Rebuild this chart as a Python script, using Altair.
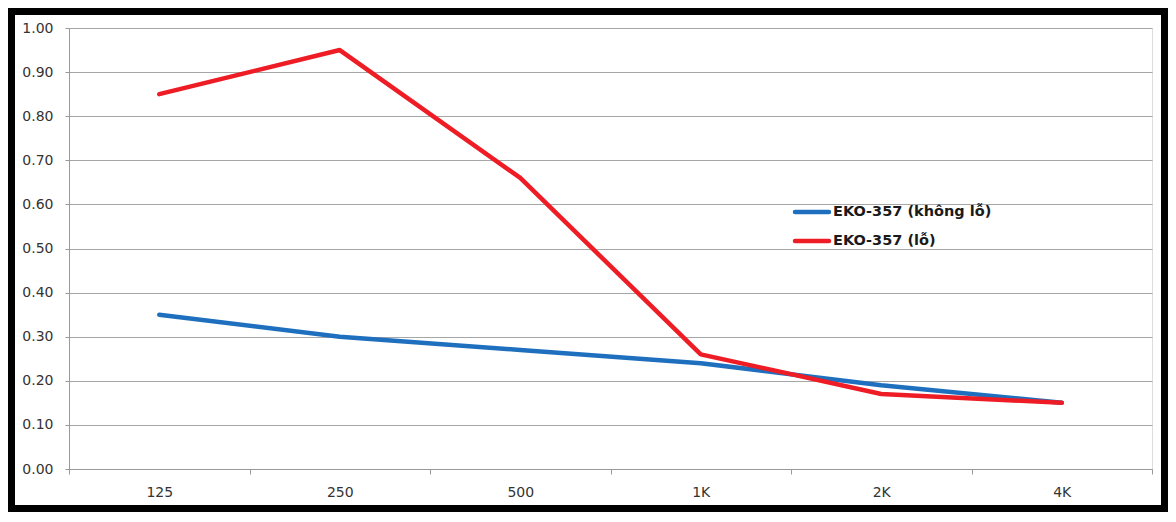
import altair as alt
import pandas as pd

freqs = ["125", "250", "500", "1K", "2K", "4K"]
series_names = ["EKO-357 (không lỗ)", "EKO-357 (lỗ)"]
blue_values = [0.35, 0.30, 0.27, 0.24, 0.19, 0.15]
red_values = [0.85, 0.95, 0.66, 0.26, 0.17, 0.15]
y_ticks = [round(i * 0.1, 1) for i in range(11)]

rows = []
for name, vals in zip(series_names, [blue_values, red_values]):
    for f, v in zip(freqs, vals):
        rows.append({"freq": f, "series": name, "value": v})
df = pd.DataFrame(rows)
legend_df = pd.DataFrame({"series": series_names})
frame_df = pd.DataFrame({"k": [0]})

FONT = "DejaVu Sans"
color_scale = alt.Scale(domain=series_names, range=["#1F6FBF", "#EE1C25"])

lines = alt.Chart(df).mark_line(strokeWidth=4.5, strokeCap="round", strokeJoin="round").encode(
    x=alt.X(
        "freq:N",
        sort=freqs,
        bandPosition=0.5,
        scale=alt.Scale(type="band", domain=freqs, paddingInner=0, paddingOuter=0),
        axis=alt.Axis(
            title=None, grid=False, tickBand="extent", tickSize=5, tickColor="#999999",
            domainColor="#999999", labelFont=FONT, labelFontSize=14, labelColor="#333333",
            labelPadding=11, labelAngle=0,
        ),
    ),
    y=alt.Y(
        "value:Q",
        scale=alt.Scale(domain=[0, 1], nice=False, zero=True),
        axis=alt.Axis(
            title=None, values=y_ticks, format=".2f", grid=True, gridColor="#A6A6A6",
            tickSize=4, tickColor="#999999", domainColor="#999999", labelFont=FONT,
            labelFontSize=14, labelColor="#333333", labelPadding=12,
        ),
    ),
    color=alt.Color("series:N", scale=color_scale, legend=None),
    order=alt.Order("series:N"),
)

legend_y = alt.Y("series:N", scale=alt.Scale(type="point", domain=series_names, range=[184, 213], padding=0), axis=None)

legend_rules = alt.Chart(legend_df).mark_rule(strokeWidth=4.5, strokeCap="round").encode(
    x=alt.value(726), x2=alt.value(760), y=legend_y,
    color=alt.Color("series:N", scale=color_scale, legend=None),
)
legend_text = alt.Chart(legend_df).mark_text(
    align="left", baseline="middle", font=FONT, fontSize=14.5, fontWeight="bold", color="#1A1A1A"
).encode(x=alt.value(764), y=legend_y, text="series:N")

frame = alt.Chart(frame_df).mark_rect(fill=None, stroke="black", strokeWidth=7).encode(
    x=alt.value(-57.5), x2=alt.value(1095.5), y=alt.value(-16.5), y2=alt.value(480.5)
)

chart = alt.layer(lines, legend_rules, legend_text, frame).resolve_scale(y="independent").properties(
    width=1083, height=441,
    autosize=alt.AutoSizeParams(type="none"),
    padding={"left": 61, "top": 20, "right": 16, "bottom": 43},
).configure_view(stroke=None).configure(background="white")

chart.save("out.html", embed_options={"renderer": "svg", "actions": False})
